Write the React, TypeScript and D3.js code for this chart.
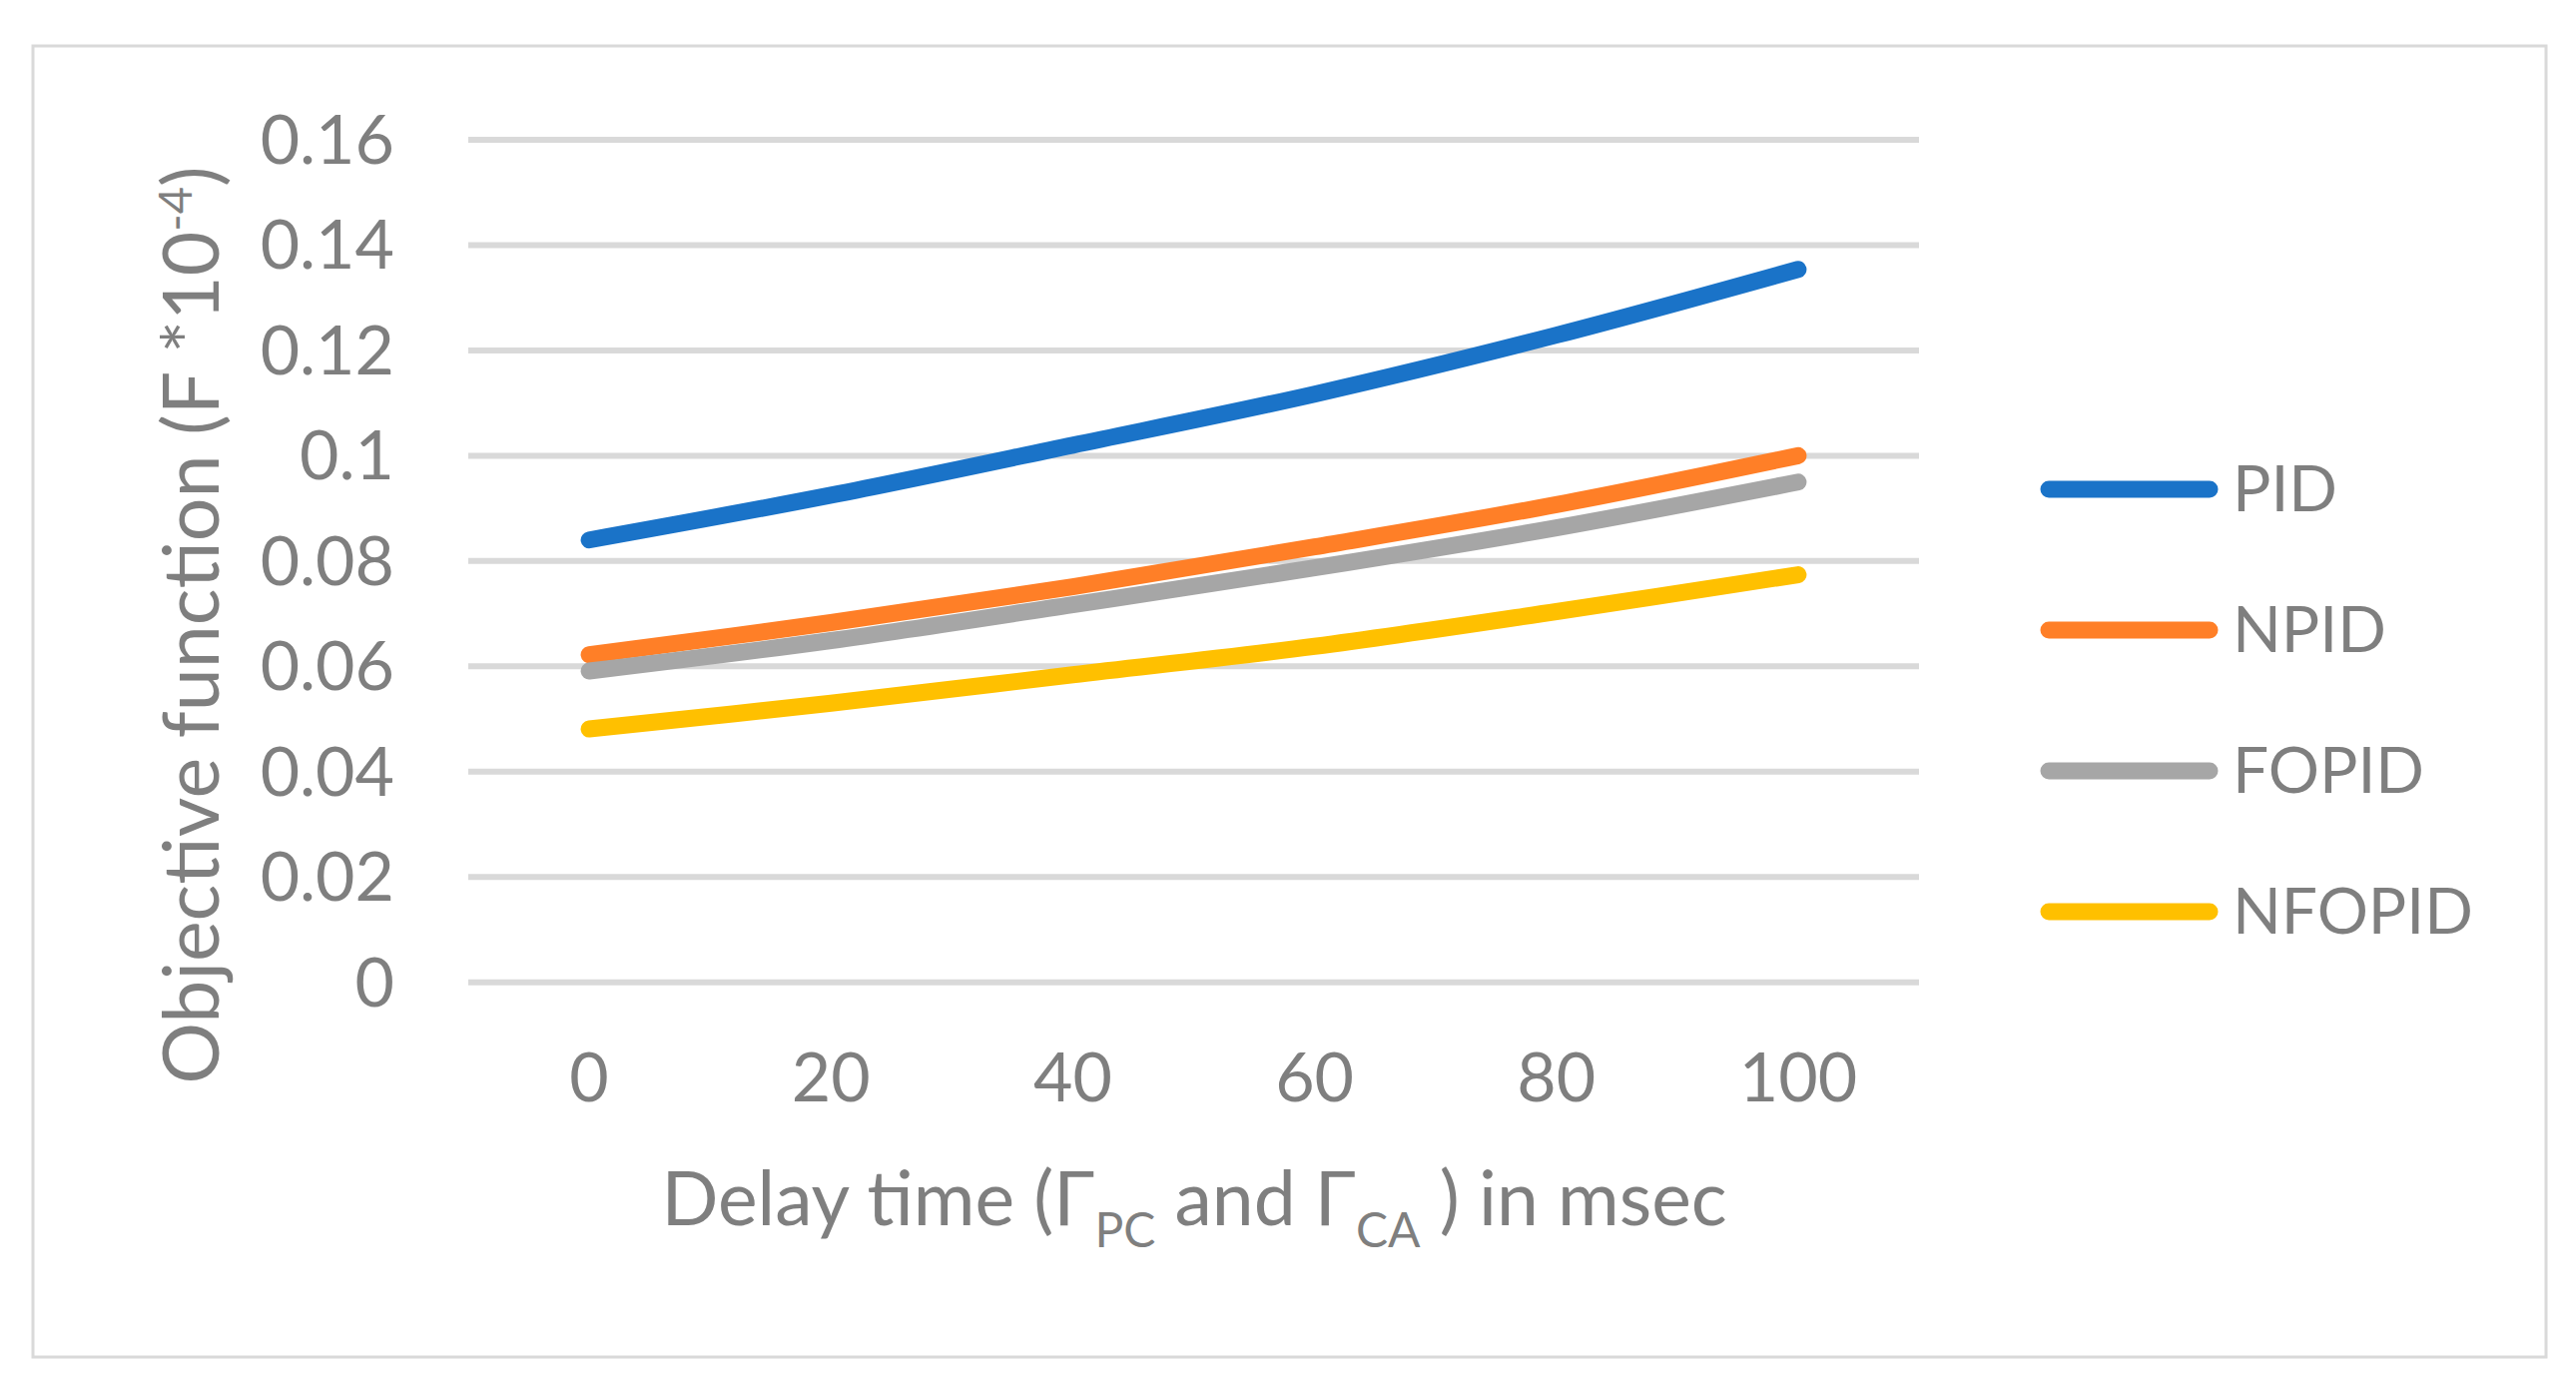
import React from "react";
import * as d3 from "d3";

const categories = ["0", "20", "40", "60", "80", "100"];
const seriesNames = ["PID", "NPID", "FOPID", "NFOPID"];
const seriesColors = ["#1a73c8", "#ff7f27", "#a6a6a6", "#ffc000"];
const pid = [0.084, 0.0925, 0.102, 0.1117, 0.1229, 0.1354];
const npid = [0.0622, 0.0683, 0.0751, 0.0827, 0.0907, 0.1];
const fopid = [0.0591, 0.0649, 0.0717, 0.0787, 0.0863, 0.095];
const nfopid = [0.0481, 0.053, 0.0584, 0.0638, 0.0704, 0.0774];
const yTicks = [0, 0.02, 0.04, 0.06, 0.08, 0.1, 0.12, 0.14, 0.16];

const W = 2580;
const H = 1380;
const FONT = "Lato, 'Open Sans', sans-serif";
const TEXT = "#7f7f7f";

export default function App() {
  const x = d3.scalePoint<string>().domain(categories).range([469, 1922]).padding(0.5);
  const y = d3.scaleLinear().domain([0, 0.16]).range([983.7, 140]);
  const allSeries = [pid, npid, fopid, nfopid];
  const line = d3
    .line<number>()
    .x((_, i) => x(categories[i]) as number)
    .y((d) => y(d))
    .curve(d3.curveCatmullRom.alpha(0));
  const legendY = [490, 631, 772, 913];

  return (
    <svg
      width={W}
      height={H}
      style={{ position: "absolute", left: 0, top: 0, display: "block", background: "#fff" }}
      fontFamily={FONT}
    >
      <rect x={0} y={0} width={W} height={H} fill="#fff" />
      <rect x={33} y={46} width={2517} height={1313} fill="none" stroke="#d9d9d9" strokeWidth={3} />
      {yTicks.map((t) => (
        <g key={t}>
          <line x1={469} x2={1922} y1={y(t)} y2={y(t)} stroke="#d9d9d9" strokeWidth={6} />
          <text x={395} y={y(t) + 24} textAnchor="end" fontSize={68} fill={TEXT}>
            {String(t)}
          </text>
        </g>
      ))}
      {categories.map((c) => (
        <text key={c} x={x(c)} y={1103} textAnchor="middle" fontSize={68} fill={TEXT}>
          {c}
        </text>
      ))}
      {allSeries.map((s, i) => (
        <path
          key={seriesNames[i]}
          d={line(s) || ""}
          fill="none"
          stroke={seriesColors[i]}
          strokeWidth={17}
          strokeLinecap="round"
          strokeLinejoin="round"
        />
      ))}
      {seriesNames.map((n, i) => (
        <g key={n}>
          <line
            x1={2052}
            x2={2213}
            y1={legendY[i]}
            y2={legendY[i]}
            stroke={seriesColors[i]}
            strokeWidth={17}
            strokeLinecap="round"
          />
          <text x={2236} y={legendY[i] + 22} fontSize={64} fill={TEXT}>
            {n}
          </text>
        </g>
      ))}
      <text x={1196} y={1227} textAnchor="middle" fontSize={75} fill={TEXT}>
        Delay time (Γ
        <tspan fontSize={48} dy={22}>PC</tspan>
        <tspan dy={-22}> and Γ</tspan>
        <tspan fontSize={48} dy={22}>CA</tspan>
        <tspan dy={-22}> ) in msec</tspan>
      </text>
      <g transform="translate(219,626) rotate(-90)">
        <text x={0} y={0} textAnchor="middle" fontSize={77} fill={TEXT}>
          Objective function (F *10
          <tspan fontSize={47} dy={-27}>-4</tspan>
          <tspan dy={27}>)</tspan>
        </text>
      </g>
    </svg>
  );
}
